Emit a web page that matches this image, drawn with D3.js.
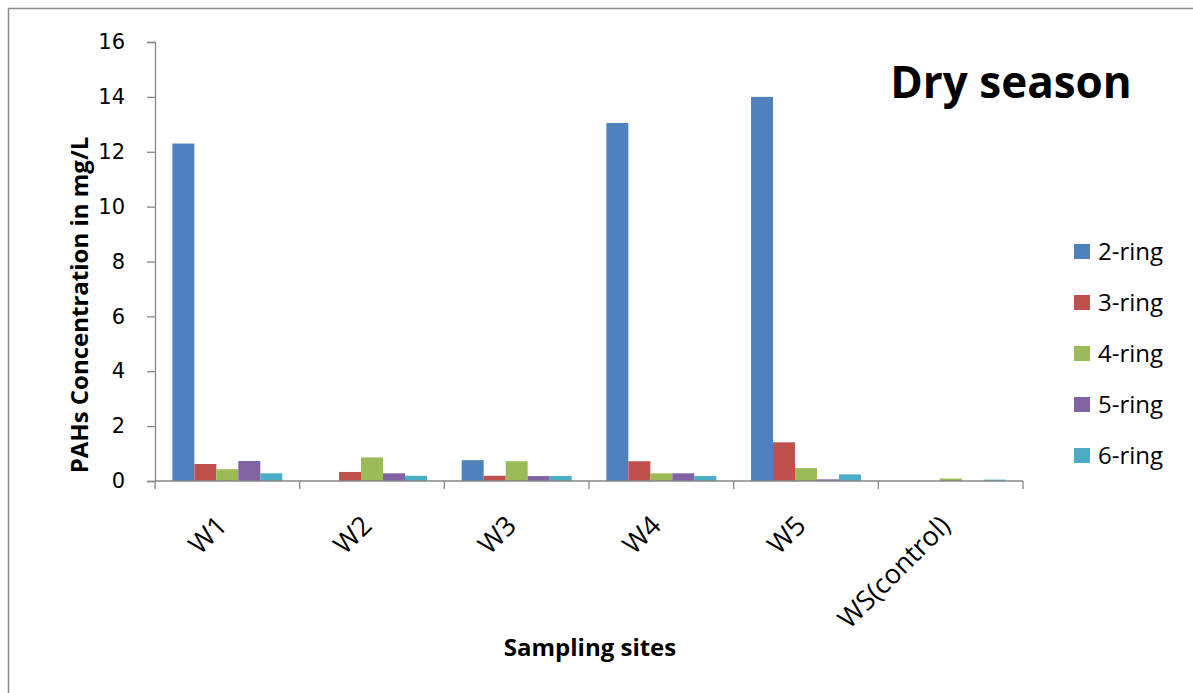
<!DOCTYPE html>
<html>
<head>
<meta charset="utf-8">
<script src="https://cdn.jsdelivr.net/npm/d3@7"></script>
<style>
  body { margin: 0; background: #fff; }
  svg { display: block; }
</style>
</head>
<body>
<div id="chart"></div>
<script>
// Data
const sites = ["W1", "W2", "W3", "W4", "W5", "WS(control)"];
const rings = ["2-ring", "3-ring", "4-ring", "5-ring", "6-ring"];
const ring2 = [12.3, 0, 0.76, 13.05, 14.0, 0];
const ring3 = [0.62, 0.33, 0.19, 0.72, 1.41, 0];
const ring4 = [0.43, 0.86, 0.72, 0.28, 0.47, 0.09];
const ring5 = [0.73, 0.28, 0.18, 0.28, 0.06, 0];
const ring6 = [0.28, 0.19, 0.18, 0.18, 0.24, 0.05];
const yTicks = [0, 2, 4, 6, 8, 10, 12, 14, 16];
const colors = ["#4F81BD", "#C0504D", "#9BBB59", "#8064A2", "#4BACC6"];

const series = [ring2, ring3, ring4, ring5, ring6];

const W = 1193, H = 693;
const margin = { left: 155, right: 170, top: 42, bottom: 212 };
const plotW = W - margin.left - margin.right;
const plotH = H - margin.top - margin.bottom;
const font = "'Open Sans'";

const svg = d3.select("#chart").append("svg")
  .attr("width", W)
  .attr("height", H);

// outer chart frame
svg.append("rect")
  .attr("x", 8.5).attr("y", 8.5)
  .attr("width", W + 10).attr("height", H + 10)
  .attr("fill", "none")
  .attr("stroke", "#8c8c8c")
  .attr("stroke-width", 1.5);

const g = svg.append("g").attr("transform", `translate(${margin.left},${margin.top})`);

const x0 = d3.scaleBand().domain(sites).range([0, plotW]).paddingInner(0.24).paddingOuter(0.12);
const x1 = d3.scaleBand().domain(rings).range([0, x0.bandwidth()]);
const y = d3.scaleLinear().domain([0, 16]).range([plotH, 0]);

// bars
const groups = g.selectAll("g.site")
  .data(sites)
  .enter()
  .append("g")
  .attr("class", "site")
  .attr("transform", d => `translate(${x0(d)},0)`);

groups.selectAll("rect")
  .data((d, i) => rings.map((r, j) => ({ ring: r, value: series[j][i], color: colors[j] })))
  .enter()
  .append("rect")
  .attr("x", d => x1(d.ring))
  .attr("y", d => y(d.value))
  .attr("width", x1.bandwidth())
  .attr("height", d => plotH - y(d.value))
  .attr("fill", d => d.color);

// y axis
const yAxis = g.append("g")
  .call(d3.axisLeft(y).tickValues(yTicks).tickSize(8).tickPadding(22));
yAxis.selectAll("path, line").attr("stroke", "#868686").attr("stroke-width", 1.3);
yAxis.selectAll("text")
  .attr("font-family", "DejaVu Sans")
  .attr("font-size", 21)
  .attr("fill", "#000");

// x axis with ticks between categories
const xAxis = g.append("g").attr("transform", `translate(0,${plotH})`);
xAxis.append("line")
  .attr("x1", 0).attr("x2", plotW)
  .attr("stroke", "#868686").attr("stroke-width", 1.3);
const tickXs = d3.range(sites.length + 1).map(i => i * plotW / sites.length);
xAxis.selectAll("line.tick")
  .data(tickXs)
  .enter()
  .append("line")
  .attr("class", "tick")
  .attr("x1", d => d).attr("x2", d => d)
  .attr("y1", 0).attr("y2", 8)
  .attr("stroke", "#868686").attr("stroke-width", 1.3);

xAxis.selectAll("text")
  .data(sites)
  .enter()
  .append("text")
  .attr("transform", d => `translate(${x0(d) + x0.bandwidth() / 2 - 13},${32}) rotate(-45)`)
  .attr("text-anchor", "end")
  .attr("font-family", font)
  .attr("font-size", 27)
  .attr("dy", "0.75em")
  .text(d => d);

// axis titles
svg.append("text")
  .attr("x", 590).attr("y", 656)
  .attr("text-anchor", "middle")
  .attr("font-family", font)
  .attr("font-weight", "bold")
  .attr("font-size", 24)
  .text("Sampling sites");

svg.append("text")
  .attr("transform", "translate(88,305) rotate(-90)")
  .attr("text-anchor", "middle")
  .attr("font-family", font)
  .attr("font-weight", "bold")
  .attr("font-size", 24)
  .text("PAHs Concentration in mg/L");

// title
svg.append("text")
  .attr("x", 1011).attr("y", 98)
  .attr("text-anchor", "middle")
  .attr("font-family", font)
  .attr("font-weight", "bold")
  .attr("font-size", 44)
  .text("Dry season");

// legend
const legend = svg.append("g").attr("transform", "translate(1074,244)");
const items = legend.selectAll("g")
  .data(rings)
  .enter()
  .append("g")
  .attr("transform", (d, i) => `translate(0,${i * 51})`);
items.append("rect")
  .attr("width", 16).attr("height", 15)
  .attr("fill", (d, i) => colors[i]);
items.append("text")
  .attr("x", 24).attr("y", 8)
  .attr("dy", "0.35em")
  .attr("font-family", font)
  .attr("font-size", 24)
  .text(d => d);
</script>
</body>
</html>
